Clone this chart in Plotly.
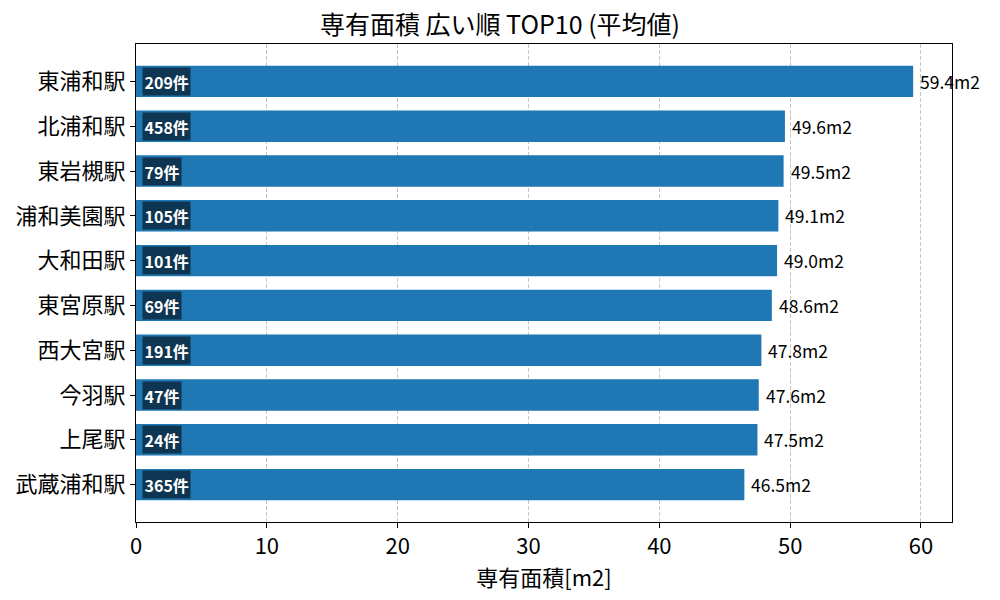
import plotly.graph_objects as go

stations = ["東浦和駅", "北浦和駅", "東岩槻駅", "浦和美園駅", "大和田駅", "東宮原駅", "西大宮駅", "今羽駅", "上尾駅", "武蔵浦和駅"]
areas = [59.4, 49.6, 49.5, 49.1, 49.0, 48.6, 47.8, 47.6, 47.5, 46.5]
counts = [209, 458, 79, 105, 101, 69, 191, 47, 24, 365]
xticks = [0, 10, 20, 30, 40, 50, 60]

FONT = "Noto Sans CJK JP"
fig = go.Figure()
fig.add_trace(go.Bar(
    y=stations, x=areas, orientation="h", width=0.7,
    marker=dict(color="#1f77b4", line=dict(width=0)),
    hoverinfo="skip",
))

annotations = []
for s, a, c in zip(stations, areas, counts):
    annotations.append(dict(
        x=a, y=s, xref="x", yref="y", text=f"{a:.1f}m2", showarrow=False,
        xanchor="left", yanchor="middle", xshift=5,
        font=dict(family=FONT, size=17.5, color="black"),
    ))
    annotations.append(dict(
        x=0, y=s, xref="x", yref="y", text=f"<b>{c}件</b>", showarrow=False,
        xanchor="left", yanchor="middle", xshift=6,
        font=dict(family=FONT, size=16, color="white"),
        bgcolor="rgba(0,0,0,0.55)", borderpad=1.5,
    ))

fig.update_layout(
    width=1000, height=600,
    margin=dict(l=136, r=48, t=44, b=78),
    plot_bgcolor="white", paper_bgcolor="white",
    showlegend=False,
    title=dict(text="専有面積 広い順 TOP10 (平均値)", x=0.5, xanchor="center",
               y=1 - 25/600, yanchor="middle", font=dict(family=FONT, size=25, color="black")),
    annotations=annotations,
    font=dict(family=FONT, color="black"),
)
fig.update_xaxes(
    range=[0, 62.37], tickvals=xticks, ticks="outside", ticklen=5, tickcolor="black",
    showline=True, linecolor="black", linewidth=1, mirror=True,
    showgrid=True, gridcolor="rgba(0,0,0,0.22)", griddash="4px,2px", gridwidth=1,
    zeroline=False, tickfont=dict(family=FONT, size=22),
    title=dict(text="専有面積[m2]", font=dict(family=FONT, size=22), standoff=6),
)
fig.update_yaxes(
    range=[9.835, -0.835], ticks="outside", ticklen=5, tickcolor="black",
    showline=True, linecolor="black", linewidth=1, mirror=True,
    showgrid=False, zeroline=False, tickfont=dict(family=FONT, size=22),
    categoryorder="array", categoryarray=stations,
)
fig.write_html("out.html")
